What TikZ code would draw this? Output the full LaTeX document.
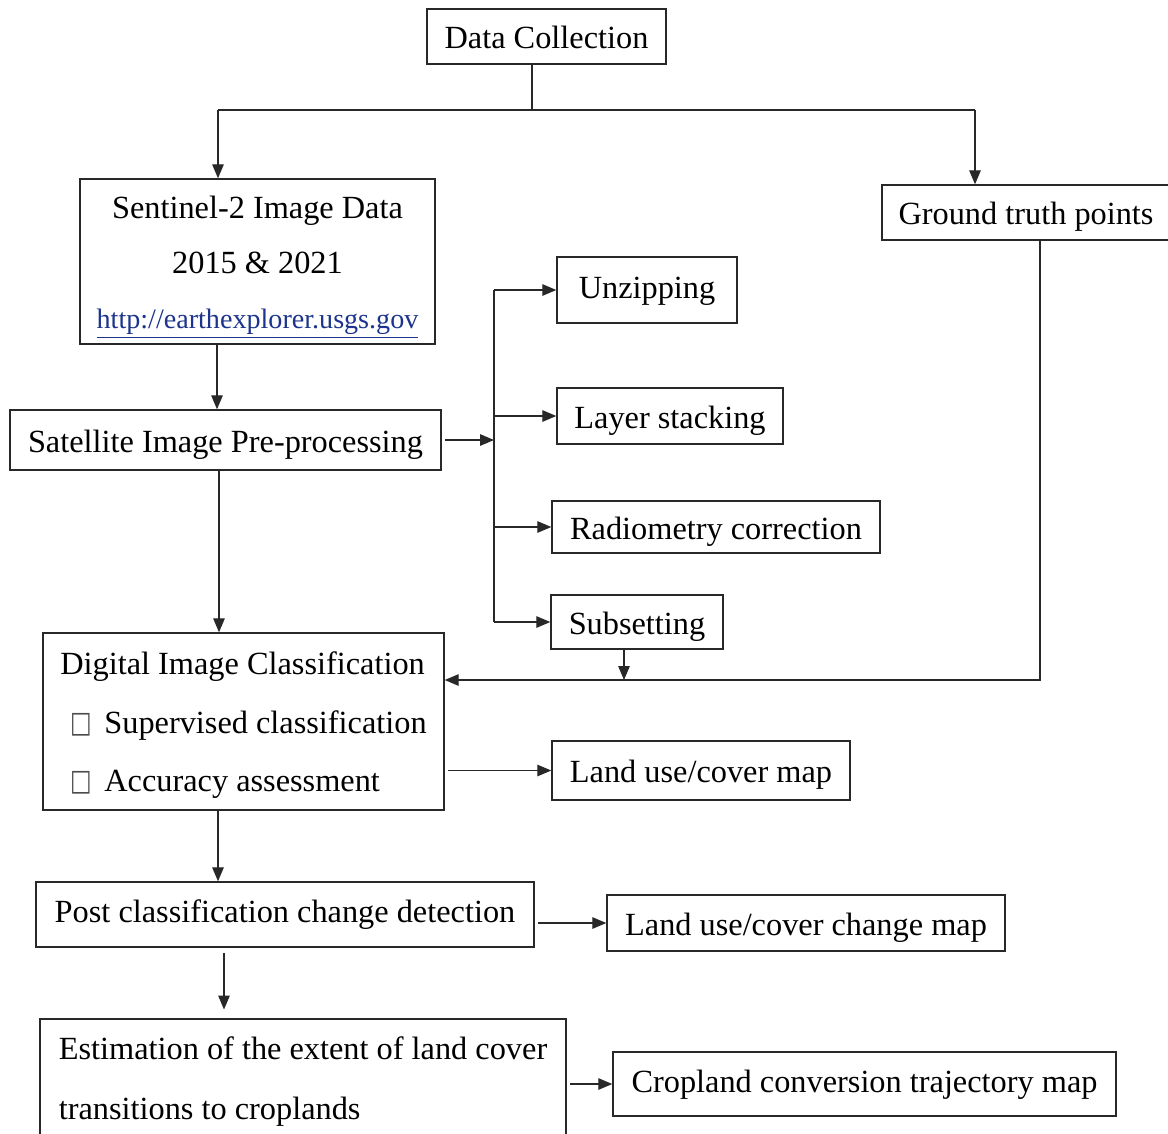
\documentclass[tikz,border=0pt]{standalone}
\usepackage{fontspec}
\setmainfont{Liberation Serif}
\newfontfamily\symfont{DejaVu Sans}
\usetikzlibrary{arrows.meta}
\definecolor{linkblue}{RGB}{28,52,140}
\definecolor{linegray}{RGB}{40,40,40}
\tikzset{
  box/.style={draw=linegray, line width=0.8pt, rectangle, inner sep=0pt, font=\fontsize{18.4}{22}\selectfont, text=black},
  onebox/.style={box, text height=14pt, text depth=0pt},
  highbox/.style={box, text height=9.4pt, text depth=0pt},
  conn/.style={draw=linegray, line width=0.75pt},
  arr/.style={conn, -{Triangle[length=0.28cm,width=0.23cm]}},
}
\newcommand{\chk}{{\color{black!70}\symfont\fontsize{13}{13}\selectfont\raisebox{0.5pt}{\scalebox{1}[1.3]{□}}}}
\begin{document}
\begin{tikzpicture}[x=0.02cm,y=-0.02cm]
\useasboundingbox (0,0) rectangle (1168,1133);
% nodes
\node[onebox, minimum width=239*0.02cm, minimum height=55*0.02cm] (dc) at (546.5,36.5) {Data Collection};
\node[box, minimum width=355*0.02cm, minimum height=165*0.02cm, align=center, font=\fontsize{18.4}{31.3}\selectfont] (sen) at (257.5,261.5)
  {\rule{0pt}{19.5pt}Sentinel-2 Image Data\\2015 \& 2021\\{\fontsize{16}{18}\selectfont\color{linkblue}\underline{http://earthexplorer.usgs.gov}}};
\node[onebox, minimum width=288*0.02cm, minimum height=55*0.02cm] (gt) at (1026,212.5) {Ground truth points};
\node[onebox, minimum width=431*0.02cm, minimum height=60*0.02cm] (pre) at (225.5,440) {Satellite Image Pre-processing};
\node[highbox, minimum width=180*0.02cm, minimum height=66*0.02cm] (unz) at (647,290) {Unzipping};
\node[onebox, minimum width=226*0.02cm, minimum height=56*0.02cm] (lay) at (670,416) {Layer stacking};
\node[onebox, minimum width=328*0.02cm, minimum height=52*0.02cm] (rad) at (716,527) {Radiometry correction};
\node[onebox, minimum width=172*0.02cm, minimum height=54*0.02cm] (sub) at (637,622) {Subsetting};
\node[box, minimum width=401*0.02cm, minimum height=177*0.02cm, align=left, font=\fontsize{18.4}{33.3}\selectfont] (dic) at (243.5,721.5)
  {\rule{0pt}{17.2pt}Digital Image Classification\\\hspace{0.2cm}\chk\hspace{0.25cm}Supervised classification\\\hspace{0.2cm}\chk\hspace{0.25cm}Accuracy assessment};
\node[onebox, minimum width=298*0.02cm, minimum height=59*0.02cm] (luc) at (701,770.5) {Land use/cover map};
\node[highbox, minimum width=498*0.02cm, minimum height=65*0.02cm] (post) at (285,914.5) {Post classification change detection};
\node[onebox, minimum width=398*0.02cm, minimum height=56*0.02cm] (lucc) at (806,923) {Land use/cover change map};
\node[box, minimum width=526*0.02cm, minimum height=118*0.02cm, align=left, font=\fontsize{18.4}{34.1}\selectfont] (est) at (303,1078)
  {\rule{0pt}{16.8pt}Estimation of the extent of land cover\\transitions to croplands};
\node[highbox, minimum width=503*0.02cm, minimum height=64*0.02cm] (crop) at (864.5,1084) {Cropland conversion trajectory map};
% helper coordinates
\coordinate (jdc) at (532,110);
\coordinate (jl) at (218,110);
\coordinate (jr) at (975,110);
\coordinate (bus) at (494,0);
\coordinate (x217) at (217,0);
\coordinate (x219) at (219,0);
\coordinate (x218) at (218,0);
\coordinate (x224) at (224,0);
\coordinate (x624) at (624,0);
\coordinate (gtc) at (1040,680);
% connectors
\draw[conn] (dc.south -| jdc) -- (jdc);
\draw[conn] (jl) -- (jr);
\draw[arr] (jl) -- (jl |- sen.north);
\draw[arr] (jr) -- (jr |- gt.north);
\draw[arr] (sen.south -| x217) -- (pre.north -| x217);
\draw[arr, shorten <=2pt] (pre.east) -- (pre.east -| bus);
\draw[conn] (unz.west -| bus) -- (sub.west -| bus);
\draw[arr] (unz.west -| bus) -- (unz.west);
\draw[arr] (lay.west -| bus) -- (lay.west);
\draw[arr] (rad.west -| bus) -- (rad.west);
\draw[arr] (sub.west -| bus) -- (sub.west);
\draw[arr] (pre.south -| x219) -- (dic.north -| x219);
\draw[arr] (gt.south -| gtc) -- (gtc) -- (gtc -| dic.east);
\draw[arr] (sub.south -| x624) -- (x624 |- gtc);
\draw[arr, shorten <=2pt] (dic.east |- luc.west) -- (luc.west);
\draw[arr] (dic.south -| x218) -- (post.north -| x218);
\draw[arr, shorten <=2pt] (post.east |- lucc.west) -- (lucc.west);
\draw[arr, shorten <=3pt, shorten >=5pt] (post.south -| x224) -- (est.north -| x224);
\draw[arr, shorten <=2pt] (est.east |- crop.west) -- (crop.west);
\end{tikzpicture}
\end{document}
